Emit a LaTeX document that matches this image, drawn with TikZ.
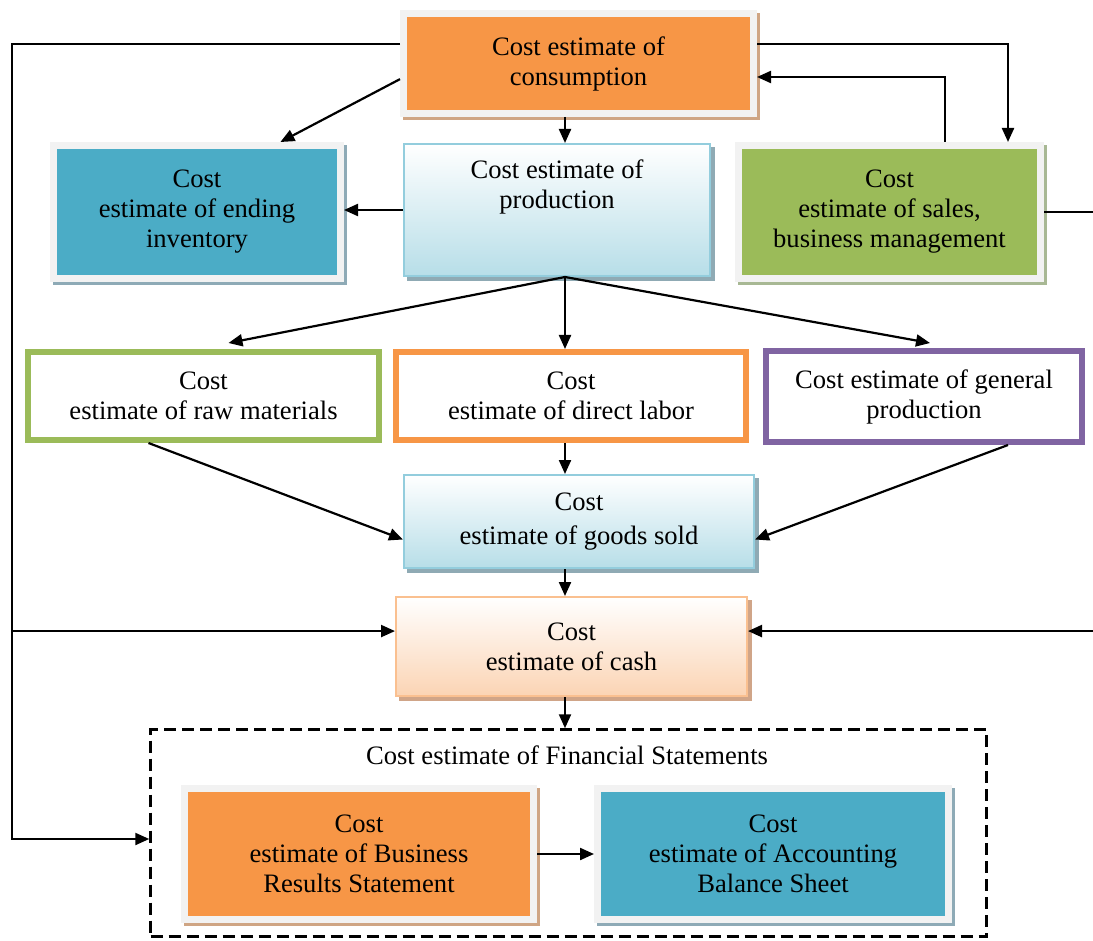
\documentclass[tikz,border=0pt]{standalone}
\usepackage{fontspec}
\setmainfont{Liberation Serif}
\usepackage{xcolor}
\usepackage{tikz}
\usetikzlibrary{arrows.meta,positioning}
\definecolor{orangefill}{HTML}{F79646}
\definecolor{orangeshade}{HTML}{CFA584}
\definecolor{tealfill}{HTML}{4BACC6}
\definecolor{tealshade}{HTML}{8EAAB6}
\definecolor{greenfill}{HTML}{9BBB59}
\definecolor{greenshade}{HTML}{A8B894}
\definecolor{purpleline}{HTML}{8064A2}
\definecolor{framegray}{HTML}{F2F2F2}
\definecolor{bluebottom}{HTML}{B7DEE8}
\definecolor{blueline}{HTML}{93CDDD}
\definecolor{blueshade}{HTML}{8FAAB4}
\definecolor{peachbottom}{HTML}{FBD4B4}
\definecolor{peachline}{HTML}{FAC090}
\definecolor{peachshade}{HTML}{D0A588}
\tikzset{
  budgetblock/.style n args={2}{
    draw=framegray,
    line width=7pt,
    fill=#1,
    align=center,
    preaction={draw=#2, fill=#2, transform canvas={xshift=3pt,yshift=-3pt}}
  },
  gradblock/.style n args={3}{
    draw=#2,
    line width=2pt,
    top color=white,
    bottom color=#1,
    align=center,
    preaction={draw=#3, fill=#3, transform canvas={xshift=4pt,yshift=-4pt}}
  },
  outlineblock/.style={
    draw=#1,
    line width=6pt,
    fill=white,
    align=center
  },
  budgetarrow/.style={-{Triangle[length=14pt,width=12pt]}, line width=2.2pt}
}

\begin{document}
\begin{tikzpicture}[x=1pt, y=-1pt, font=\fontsize{26.6}{30}\selectfont]
\useasboundingbox (0,0) rectangle (1093,941);

\node[budgetblock={orangefill}{orangeshade}, minimum width=350pt, minimum height=100pt] (cons) at (578.5,63.5) {Cost estimate of\\consumption};
\node[budgetblock={tealfill}{tealshade}, minimum width=287pt, minimum height=133pt] (inv) at (197,212) {Cost\\estimate of ending\\inventory};
\node[gradblock={bluebottom}{blueline}{blueshade}, minimum width=306pt, minimum height=132pt] (prod) at (557,210) {};
\node[align=center] (prodtext) at (557,187) {Cost estimate of\\production};
\node[budgetblock={greenfill}{greenshade}, minimum width=302pt, minimum height=133pt] (sales) at (889.5,212) {Cost\\estimate of sales,\\business management};

\node[outlineblock=greenfill, minimum width=351pt, minimum height=88pt] (raw) at (203.5,396) {Cost\\estimate of raw materials};
\node[outlineblock=orangefill, minimum width=350pt, minimum height=88pt] (labor) at (571,396) {Cost\\estimate of direct labor};
\node[outlineblock=purpleline, minimum width=316pt, minimum height=91pt] (gen) at (924,396.5) {Cost estimate of general\\production};

\node[gradblock={bluebottom}{blueline}{blueshade}, minimum width=350pt, minimum height=93pt] (goods) at (579,521.5) {Cost\\[4pt]estimate of goods sold};
\node[gradblock={peachbottom}{peachline}{peachshade}, minimum width=351pt, minimum height=99pt] (cash) at (571.5,646.5) {Cost\\estimate of cash};

\node[draw, dash pattern=on 12pt off 6pt, line width=2.5pt, minimum width=836pt, minimum height=207pt] (fs) at (568.5,833) {};
\node[align=center] (fstitle) at (567,755) {Cost estimate of Financial Statements};
\node[budgetblock={orangefill}{orangeshade}, minimum width=349pt, minimum height=131pt] (bus) at (359,854) {Cost\\estimate of Business\\Results Statement};
\node[budgetblock={tealfill}{tealshade}, minimum width=351pt, minimum height=131pt, right=57pt of bus] (bal) {Cost\\estimate of Accounting\\Balance Sheet};

% rails
\coordinate (spine) at (565,0);
\coordinate (leftrail) at (12,0);
\coordinate (rightrail) at (1100,0);
\coordinate (toprail) at (0,44);
\coordinate (backrail) at (945,77);
\coordinate (salesdrop) at (1008,0);

\draw[budgetarrow] (cons.south -| spine) -- (prod.north -| spine);
\draw[budgetarrow] (cons.185) -- (inv.40);
\draw[budgetarrow] (prod.west) -- (prod.west -| inv.east);
\draw[budgetarrow] (cons.east |- toprail) -| (sales.north -| salesdrop);
\draw[budgetarrow] (sales.north -| backrail) |- (cons.east |- backrail);
\draw[budgetarrow] (cons.west |- toprail) -| ([yshift=-6pt]fs.west -| leftrail) -- ([yshift=-6pt]fs.west);
\draw[budgetarrow] (leftrail |- cash.175) -- (cash.175);
\draw[budgetarrow] (sales.east) -- (sales.east -| rightrail) |- (cash.5);

\draw[budgetarrow] (prod.south -| spine) -- ([xshift=25pt,yshift=6pt]raw.north);
\draw[budgetarrow] (prod.south -| spine) -- (labor.north -| spine);
\draw[budgetarrow] (prod.south -| spine) -- ([xshift=6pt,yshift=5pt]gen.north);
\draw[budgetarrow] ([xshift=-55pt]raw.south) -- ([yshift=-18pt]goods.west);
\draw[budgetarrow] (labor.south -| spine) -- (goods.north -| spine);
\draw[budgetarrow] ([xshift=84pt]gen.south) -- ([yshift=-18pt]goods.east);
\draw[budgetarrow] (goods.south -| spine) -- (cash.north -| spine);
\draw[budgetarrow] (cash.south -| spine) -- (fs.north -| spine);
\draw[budgetarrow] (bus) -- (bal);
\end{tikzpicture}
\end{document}
